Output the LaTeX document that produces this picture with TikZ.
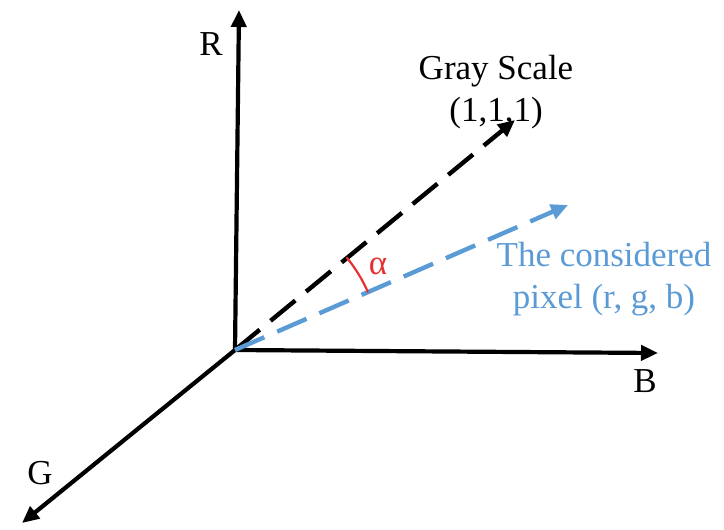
\documentclass[tikz,border=0pt]{standalone}
\usepackage{fontspec}
\setmainfont{Liberation Serif}
\usetikzlibrary{arrows.meta}
\definecolor{pixblue}{HTML}{5B9BD5}
\definecolor{angred}{HTML}{E8302F}
\begin{document}
\begin{tikzpicture}[x=1pt,y=-1pt,
  axis/.style={line width=4.2pt,-{Triangle[length=17pt,width=15pt]}},
  dashedvec/.style={line width=4.4pt,dash pattern=on 32pt off 14pt,-{Triangle[length=17pt,width=15pt]}},
  lbl/.style={font=\fontsize{35}{42}\selectfont,inner sep=0pt}]
\useasboundingbox (0,0) rectangle (724,530);
\coordinate (O) at (235,350);
\coordinate (Rt) at (239,10);
\coordinate (Bt) at (658,353);
\coordinate (Gt) at (22,523);
\coordinate (Gs) at (515,120);
\coordinate (Px) at (568,205);
\draw[axis] (O) -- (Rt);
\draw[axis] (O) -- (Bt);
\draw[axis] (O) -- (Gt);
\draw[dashedvec,black] (O) -- (Gs);
\draw[dashedvec,pixblue] (O) -- (Px);
\draw[angred,line width=2.2pt] ([shift={(-23.4:145)}]O) arc[start angle=-23.4,end angle=-39.7,radius=145];
\node[lbl] (R) at (211,44) {R};
\node[lbl] (B) at (645,381) {B};
\node[lbl] (G) at (40,473) {G};
\node[lbl,align=center] (gs) at (496,92) {Gray Scale\\(1,1,1)};
\node[lbl,align=center,text=pixblue] (px) at (604,279) {The considered\\pixel (r, g, b)};
\node[lbl,text=angred] (al) at (378,266) {α};
\end{tikzpicture}
\end{document}
